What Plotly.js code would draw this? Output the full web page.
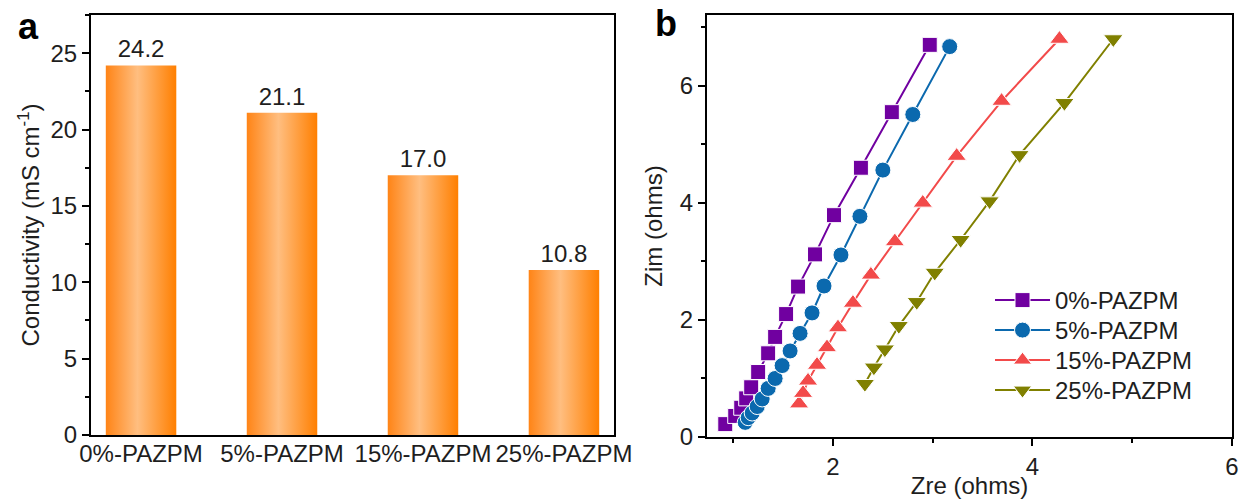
<!DOCTYPE html>
<html>
<head>
<meta charset="utf-8">
<script src="https://cdn.plot.ly/plotly-3.0.1.min.js"></script>
<style>
html,body{margin:0;padding:0;background:#fff;}
#chart{width:1243px;height:499px;}
</style>
</head>
<body>
<div id="chart"></div>
<script>
// Panel a data
const categories = ['0%-PAZPM', '5%-PAZPM', '15%-PAZPM', '25%-PAZPM'];
const conductivity = [24.2, 21.1, 17.0, 10.8];

// Panel b data (Nyquist)
const seriesNames = ['0%-PAZPM', '5%-PAZPM', '15%-PAZPM', '25%-PAZPM'];
const zre0 = [0.92, 1.02, 1.08, 1.13, 1.18, 1.25, 1.35, 1.42, 1.53, 1.65, 1.82, 2.01, 2.28, 2.59, 2.97];
const zim0 = [0.22, 0.36, 0.50, 0.66, 0.85, 1.11, 1.43, 1.71, 2.10, 2.57, 3.12, 3.79, 4.60, 5.55, 6.70];
const zre5 = [1.12, 1.15, 1.19, 1.24, 1.29, 1.35, 1.42, 1.49, 1.57, 1.67, 1.79, 1.91, 2.08, 2.27, 2.50, 2.80, 3.17];
const zim5 = [0.25, 0.33, 0.41, 0.52, 0.65, 0.83, 1.00, 1.22, 1.47, 1.77, 2.12, 2.58, 3.11, 3.77, 4.56, 5.51, 6.67];
const zre15 = [1.66, 1.70, 1.75, 1.84, 1.94, 2.05, 2.20, 2.38, 2.62, 2.90, 3.24, 3.69, 4.27];
const zim15 = [0.57, 0.75, 0.96, 1.23, 1.53, 1.87, 2.29, 2.77, 3.34, 4.00, 4.80, 5.74, 6.80];
const zre25 = [2.32, 2.41, 2.52, 2.66, 2.84, 3.02, 3.28, 3.57, 3.87, 4.32, 4.81];
const zim25 = [0.91, 1.19, 1.50, 1.90, 2.31, 2.81, 3.37, 4.03, 4.82, 5.71, 6.80];

const W = 1243, H = 499;
const FONT = 'Liberation Sans, Arial, sans-serif';
const TXT = '#1e1e1e';
const FS = 24;

const colors = ['#7000A0', '#0B69AE', '#F24A4A', '#808000'];
const symbols = ['square', 'circle', 'triangle-up', 'triangle-down'];
const sizes = [15, 16, 17, 17];
const xs = [zre0, zre5, zre15, zre25];
const ys = [zim0, zim5, zim15, zim25];

const traces = [{
  type: 'bar',
  x: categories,
  y: conductivity,
  xaxis: 'x', yaxis: 'y',
  width: 0.5,
  marker: {color: '#FF9A40', line: {width: 0}},
  texttemplate: '%{y:.1f}',
  textposition: 'outside',
  cliponaxis: false,
  textfont: {family: FONT, size: FS, color: TXT},
  showlegend: false,
  hoverinfo: 'skip'
}];

for (let i = 0; i < 4; i++) {
  traces.push({
    type: 'scatter',
    mode: 'lines+markers',
    name: seriesNames[i],
    x: xs[i], y: ys[i],
    xaxis: 'x2', yaxis: 'y2',
    line: {color: colors[i], width: 2},
    marker: {symbol: symbols[i], size: sizes[i], color: colors[i], line: {color: '#ffffff', width: 1}},
    cliponaxis: false
  });
}

const axBase = {
  showgrid: false, zeroline: false,
  showline: true, linecolor: '#000', linewidth: 2, mirror: true,
  ticks: 'outside', ticklen: 7, tickwidth: 2, tickcolor: '#000',
  tickfont: {family: FONT, size: FS, color: TXT},
  automargin: false
};

const layout = {
  width: W, height: H,
  margin: {l: 0, r: 0, t: 0, b: 0},
  paper_bgcolor: '#fff', plot_bgcolor: '#fff',
  font: {family: FONT, size: FS, color: TXT},
  xaxis: Object.assign({}, axBase, {
    domain: [91 / W, 614 / W],
    type: 'category',
    range: [-0.355, 3.355],
    ticks: '',
    ticklabelstandoff: -4,
    anchor: 'y'
  }),
  yaxis: Object.assign({}, axBase, {
    domain: [(H - 435) / H, (H - 15) / H],
    range: [0, 27.5],
    dtick: 5, tick0: 0,
    minor: {dtick: 2.5, ticks: 'outside', ticklen: 4, tickwidth: 2, tickcolor: '#000'},
    title: {text: 'Conductivity (mS cm<sup>-1</sup>)', font: {family: FONT, size: FS, color: TXT}, standoff: 4},
    anchor: 'x'
  }),
  xaxis2: Object.assign({}, axBase, {
    domain: [707 / W, 1232 / W],
    range: [0.737, 6],
    dtick: 2, tick0: 0,
    minor: {dtick: 1, ticks: 'outside', ticklen: 4, tickwidth: 2, tickcolor: '#000'},
    title: {text: 'Zre (ohms)', font: {family: FONT, size: FS, color: TXT}, standoff: 6},
    anchor: 'y2'
  }),
  yaxis2: Object.assign({}, axBase, {
    domain: [(H - 437) / H, (H - 15) / H],
    range: [0, 7.21],
    dtick: 2, tick0: 0,
    minor: {dtick: 1, ticks: 'outside', ticklen: 4, tickwidth: 2, tickcolor: '#000'},
    title: {text: 'Zim (ohms)', font: {family: FONT, size: FS, color: TXT}, standoff: 10},
    anchor: 'x2'
  }),
  legend: {
    x: 990 / W, y: (H - 278) / H,
    xanchor: 'left', yanchor: 'top',
    bgcolor: 'rgba(0,0,0,0)',
    font: {family: FONT, size: FS, color: TXT},
    itemwidth: 55,
    tracegroupgap: 0
  },
  annotations: [
    {text: '<b>a</b>', xref: 'paper', yref: 'paper', x: 28 / W, y: (H - 26) / H,
     xanchor: 'center', yanchor: 'middle', showarrow: false, font: {family: FONT, size: 36, color: '#000'}},
    {text: '<b>b</b>', xref: 'paper', yref: 'paper', x: 666 / W, y: (H - 23) / H,
     xanchor: 'center', yanchor: 'middle', showarrow: false, font: {family: FONT, size: 36, color: '#000'}}
  ]
};

Plotly.newPlot('chart', traces, layout, {staticPlot: true, displayModeBar: false}).then(function (gd) {
  const svg = gd.querySelector('svg.main-svg');
  const NS = 'http://www.w3.org/2000/svg';
  let defs = svg.querySelector('defs');
  if (!defs) { defs = document.createElementNS(NS, 'defs'); svg.insertBefore(defs, svg.firstChild); }
  const grad = document.createElementNS(NS, 'linearGradient');
  grad.setAttribute('id', 'barGrad');
  grad.setAttribute('x1', '0'); grad.setAttribute('y1', '0');
  grad.setAttribute('x2', '1'); grad.setAttribute('y2', '0');
  [['0%', '#FF8416'], ['45%', '#FFBE80'], ['100%', '#FF7F00']].forEach(function (s) {
    const st = document.createElementNS(NS, 'stop');
    st.setAttribute('offset', s[0]);
    st.setAttribute('stop-color', s[1]);
    grad.appendChild(st);
  });
  defs.appendChild(grad);
  gd.querySelectorAll('.barlayer .point path').forEach(function (p) {
    p.style.fill = 'url(#barGrad)';
  });
  // tighten legend row spacing to match the reference (30 px per row)
  const items = gd.querySelectorAll('.legend g.traces');
  if (items.length > 1) {
    const parse = function (el) {
      const m = /translate\(\s*([-\d.]+)[ ,]+([-\d.]+)/.exec(el.getAttribute('transform') || '');
      return m ? [parseFloat(m[1]), parseFloat(m[2])] : null;
    };
    const p0 = parse(items[0]);
    if (p0) {
      items.forEach(function (el, i) {
        const p = parse(el);
        if (p) el.setAttribute('transform', 'translate(' + p[0] + ',' + (p0[1] + 30 * i) + ')');
      });
    }
  }
});
</script>
</body>
</html>
